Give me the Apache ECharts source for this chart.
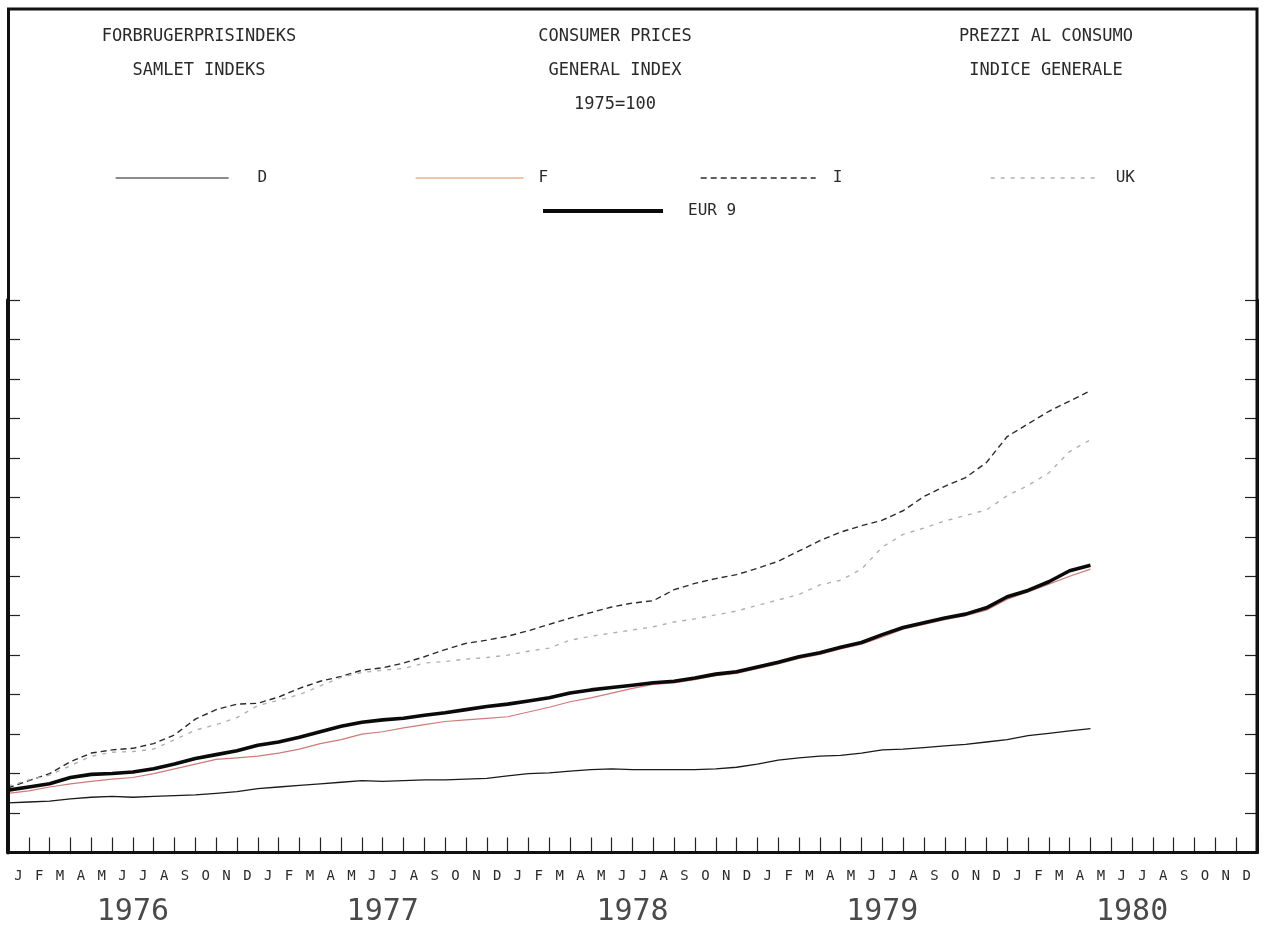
<!DOCTYPE html>
<html>
<head>
<meta charset="utf-8">
<script src="https://cdn.jsdelivr.net/npm/echarts@6/dist/echarts.min.js"></script>
<style>
html,body{margin:0;padding:0;background:#fff;}
#c{width:1266px;height:931px;}
</style>
</head>
<body>
<div id="c"></div>
<script>
// ---- data (index, 1975=100, monthly Jan 1976 .. May 1980) ----
const monthLetters = ['J','F','M','A','M','J','J','A','S','O','N','D'];
const years = ['1976','1977','1978','1979','1980'];
const seriesNames = ['D','F','I','UK','EUR 9'];
const yTicks = {min:100, max:170, step:5};

const D = [106.3,106.4,106.5,106.8,107.0,107.1,107.0,107.1,107.2,107.3,107.5,107.7,
           108.1,108.3,108.5,108.7,108.9,109.1,109.0,109.1,109.2,109.2,109.3,109.4,
           109.7,110.0,110.1,110.3,110.5,110.6,110.5,110.5,110.5,110.5,110.6,110.8,
           111.2,111.7,112.0,112.2,112.3,112.6,113.0,113.1,113.3,113.5,113.7,114.0,
           114.3,114.8,115.1,115.4,115.7];
const F = [107.5,107.8,108.3,108.7,109.0,109.3,109.5,110.0,110.6,111.2,111.8,112.0,
           112.2,112.6,113.1,113.8,114.3,115.0,115.3,115.8,116.2,116.6,116.8,117.0,
           117.2,117.8,118.4,119.1,119.6,120.2,120.8,121.3,121.5,121.9,122.4,122.7,
           123.3,123.9,124.6,125.1,125.8,126.4,127.3,128.3,128.9,129.5,130.0,130.7,
           132.1,133.0,134.0,135.0,135.9];
const I = [108.2,109.1,110.0,111.5,112.6,113.0,113.2,113.8,114.9,116.9,118.1,118.8,
           118.9,119.7,120.8,121.7,122.3,123.1,123.4,124.0,124.8,125.7,126.5,126.9,
           127.4,128.1,128.9,129.7,130.4,131.1,131.6,131.9,133.3,134.1,134.7,135.2,
           136.0,136.9,138.2,139.5,140.6,141.4,142.1,143.3,145.1,146.4,147.5,149.4,
           152.7,154.3,155.9,157.2,158.5];
const UK = [108.4,109.2,109.8,111.0,112.2,112.7,112.8,113.1,114.3,115.5,116.2,117.1,
            118.6,119.3,120.0,121.1,122.2,122.8,123.1,123.3,124.0,124.2,124.5,124.7,
            125.0,125.5,125.9,126.9,127.4,127.8,128.2,128.6,129.2,129.6,130.1,130.6,
            131.3,132.0,132.7,133.9,134.5,135.9,138.7,140.3,141.1,142.0,142.7,143.4,
            145.2,146.5,148.1,150.8,152.3];
const EUR9 = [107.9,108.3,108.7,109.5,109.9,110.0,110.2,110.6,111.2,111.9,112.4,112.9,
              113.6,114.0,114.6,115.3,116.0,116.5,116.8,117.0,117.4,117.7,118.1,118.5,
              118.8,119.2,119.6,120.2,120.6,120.9,121.2,121.5,121.7,122.1,122.6,122.9,
              123.5,124.1,124.8,125.3,126.0,126.6,127.6,128.5,129.1,129.7,130.2,131.0,
              132.4,133.2,134.3,135.7,136.4];
const values = {'D':D,'F':F,'I':I,'UK':UK,'EUR 9':EUR9};

// ---- derived labels ----
const monthAxisLabels = years.flatMap(() => monthLetters);
const timeKeys = years.concat(['1981']).flatMap(y => monthLetters.map((m,i)=> y + '-' + (i+1))).slice(0, 61);

// ---- styles ----
const mono = '"DejaVu Sans Mono", "Liberation Mono", monospace';
const styles = {
  'D':     {color:'#1a1a1a', width:1.3, type:'solid'},
  'F':     {color:'#d07a78', width:1.2, type:'solid'},
  'I':     {color:'#2a2a2a', width:1.4, type:[6,4]},
  'UK':    {color:'#b0b0b0', width:1.4, type:[4,6]},
  'EUR 9': {color:'#0a0a0a', width:3.6, type:'solid'}
};
const legendLayout = {
  'D':     {left:115, top:170, w:113, pad:24, lw:1.2, color:'#1a1a1a'},
  'F':     {left:415, top:170, w:108, pad:10, lw:1.2, color:'#dd8a60'},
  'I':     {left:700, top:170, w:115, pad:12, lw:1.4, color:'#2a2a2a'},
  'UK':    {left:990, top:170, w:110, pad:10, lw:1.4, color:'#b0b0b0'},
  'EUR 9': {left:541, top:203, w:120, pad:20, lw:4, color:'#0a0a0a'}
};

const chart = echarts.init(document.getElementById('c'), null, {renderer:'canvas'});

const titleStyle = {fontFamily:mono, fontSize:17, fontWeight:'normal', color:'#2a2a2a', lineHeight:34};

const option = {
  backgroundColor:'#ffffff',
  animation:false,
  title:[
    {text:'FORBRUGERPRISINDEKS\nSAMLET INDEKS', left:199, top:20, textAlign:'center', padding:0, textStyle:titleStyle},
    {text:'CONSUMER PRICES\nGENERAL INDEX\n1975=100', left:615, top:20, textAlign:'center', padding:0, textStyle:titleStyle},
    {text:'PREZZI AL CONSUMO\nINDICE GENERALE', left:1046, top:20, textAlign:'center', padding:0, textStyle:titleStyle}
  ],
  legend: seriesNames.map(n => ({
    data:[n],
    left:legendLayout[n].left, top:legendLayout[n].top,
    padding:0, selectedMode:false,
    itemWidth:legendLayout[n].w, itemHeight:14,
    itemStyle:{opacity:0},
    lineStyle:{width:legendLayout[n].lw, color:legendLayout[n].color},
    textStyle:{fontFamily:mono, fontSize:16, color:'#2a2a2a', padding:[0,0,0,legendLayout[n].pad]}
  })),
  grid:[
    {left:8, right:9, top:300, bottom:78.5, outerBoundsMode:'none'},
    {left:8, right:9, top:880, height:1, outerBoundsMode:'none'}
  ],
  xAxis:[
    {type:'category', gridIndex:0, position:'bottom', data:monthAxisLabels, boundaryGap:true,
     axisLine:{show:true, lineStyle:{color:'#111', width:3}},
     axisTick:{show:true, inside:true, length:15, interval:0, lineStyle:{color:'#222', width:1.2}},
     axisLabel:{show:true, interval:0, margin:17, fontFamily:mono, fontSize:14, color:'#2a2a2a'},
     splitLine:{show:false}},
    {type:'category', gridIndex:0, position:'top', data:timeKeys, boundaryGap:false, show:false},
    {type:'category', gridIndex:1, position:'bottom', data:years, boundaryGap:true,
     axisLine:{show:false}, axisTick:{show:false},
     axisLabel:{show:true, interval:0, margin:16, fontFamily:mono, fontSize:30, color:'#4a4a4a'},
     splitLine:{show:false}}
  ],
  yAxis:[
    {type:'value', gridIndex:0, position:'left', min:yTicks.min, max:yTicks.max, interval:yTicks.step,
     axisLine:{show:true, lineStyle:{color:'#111', width:4}},
     axisTick:{show:true, inside:true, length:12, lineStyle:{color:'#222', width:1.2}},
     axisLabel:{show:false}, splitLine:{show:false}},
    {type:'value', gridIndex:0, position:'right', min:yTicks.min, max:yTicks.max, interval:yTicks.step,
     axisLine:{show:true, lineStyle:{color:'#111', width:3}},
     axisTick:{show:true, inside:true, length:12, lineStyle:{color:'#222', width:1.2}},
     axisLabel:{show:false}, splitLine:{show:false}},
    {type:'value', gridIndex:1, show:false}
  ],
  series: seriesNames.map(n => ({
    name:n, type:'line', xAxisIndex:1, yAxisIndex:0,
    data:values[n], symbol:'none', smooth:false,
    lineStyle:{color:styles[n].color, width:styles[n].width, type:styles[n].type},
    itemStyle:{color:styles[n].color},
    emphasis:{disabled:true}
  })),
  graphic:[
    {type:'rect', silent:true, z:100,
     shape:{x:8.5, y:9, width:1248.5, height:843.5},
     style:{fill:'none', stroke:'#111', lineWidth:3}}
  ]
};
chart.setOption(option);
</script>
</body>
</html>
